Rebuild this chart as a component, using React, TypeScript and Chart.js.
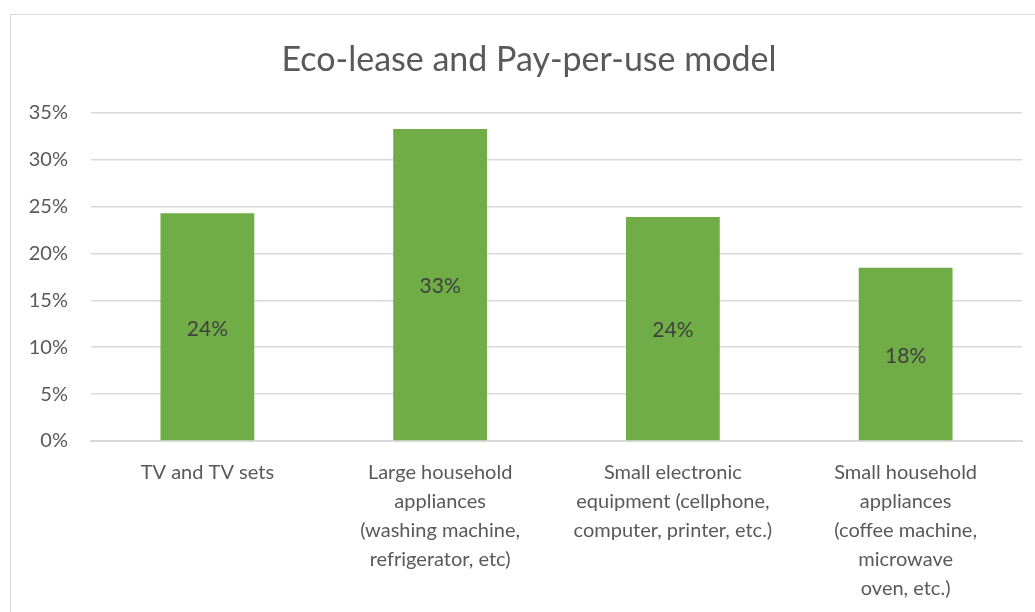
import React, { useEffect, useRef } from "react";
import { Chart, registerables } from "chart.js";

Chart.register(...registerables);

const TITLE = "Eco-lease and Pay-per-use model";
const categories: (string | string[])[] = [
  "TV and TV sets",
  ["Large household", "appliances", "(washing machine,", "refrigerator, etc)"],
  ["Small electronic", "equipment (cellphone,", "computer, printer, etc.)"],
  ["Small household", "appliances", "(coffee machine,", "microwave", "oven, etc.)"],
];
const values = [24.3, 33.3, 23.9, 18.5];
const dataLabels = ["24%", "33%", "24%", "18%"];
const yTicks = [0, 5, 10, 15, 20, 25, 30, 35];

const FONT = "Lato";

const borderPlugin = {
  id: "borderPlugin",
  beforeDraw(chart: any) {
    const ctx = chart.ctx;
    ctx.save();
    ctx.strokeStyle = "#d9d9d9";
    ctx.lineWidth = 1;
    ctx.strokeRect(10.5, 14.5, 1100, 700);
    ctx.fillStyle = "#595959";
    ctx.font = `34px ${FONT}`;
    ctx.textAlign = "center";
    ctx.textBaseline = "middle";
    ctx.fillText(TITLE, 529, 60);
    ctx.restore();
  },
};

const labelPlugin = {
  id: "labelPlugin",
  afterDatasetsDraw(chart: any) {
    const ctx = chart.ctx;
    const meta = chart.getDatasetMeta(0);
    ctx.save();
    ctx.fillStyle = "#404040";
    ctx.font = `21px ${FONT}`;
    ctx.textAlign = "center";
    ctx.textBaseline = "middle";
    meta.data.forEach((bar: any, i: number) => {
      const y = (bar.y + bar.base) / 2 + 2;
      ctx.fillText(dataLabels[i], bar.x, y);
    });
    ctx.restore();
  },
};

export default function App() {
  const ref = useRef<HTMLCanvasElement>(null);
  useEffect(() => {
    if (!ref.current) return;
    const chart = new Chart(ref.current, {
      type: "bar",
      data: {
        labels: categories,
        datasets: [
          {
            data: values,
            backgroundColor: "#70AD47",
            barPercentage: 0.403,
            categoryPercentage: 1,
          },
        ],
      },
      options: {
        responsive: false,
        animation: false,
        layout: { padding: { left: 0, right: 13, top: 113, bottom: 0 } },
        plugins: {
          legend: { display: false },
          tooltip: { enabled: false },
          title: { display: false },
        },
        scales: {
          x: {
            grid: { display: false, drawTicks: false },
            border: { display: true, color: "#d9d9d9", width: 2 },
            ticks: {
              color: "#595959",
              font: { family: FONT, size: 20, lineHeight: 1.45 },
              padding: 17,
              maxRotation: 0,
              autoSkip: false,
            },
            afterFit(scale: any) {
              scale.height = 171;
            },
          },
          y: {
            min: 0,
            max: 35,
            afterBuildTicks(scale: any) {
              scale.ticks = yTicks.map((v) => ({ value: v }));
            },
            grid: { color: "#d9d9d9", lineWidth: 1.6, drawTicks: false },
            border: { display: false },
            ticks: {
              color: "#595959",
              font: { family: FONT, size: 20 },
              padding: 23,
              callback: (v: any) => `${v}%`,
            },
            afterFit(scale: any) {
              scale.width = 91;
            },
          },
        },
      },
      plugins: [borderPlugin, labelPlugin],
    });
    return () => chart.destroy();
  }, []);
  return (
    <div style={{ position: "fixed", left: 0, top: 0, width: 1035, height: 612, background: "#fff" }}>
      <canvas ref={ref} width={1035} height={612} style={{ display: "block" }} />
    </div>
  );
}
